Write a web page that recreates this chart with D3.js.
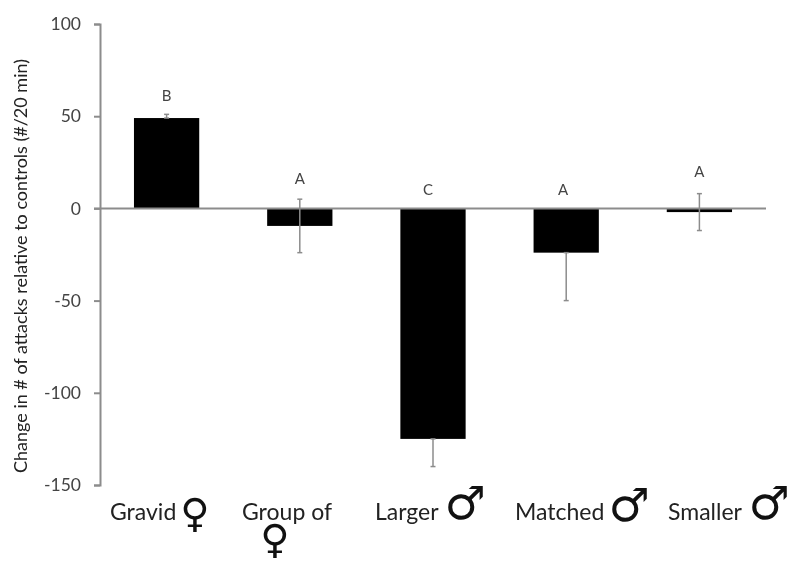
<!DOCTYPE html>
<html>
<head>
<meta charset="utf-8">
<script src="https://cdn.jsdelivr.net/npm/d3@7"></script>
<style>
  body { margin: 0; background: #fff; }
  svg { display: block; filter: blur(0.6px); }
</style>
</head>
<body>
<div id="chart"></div>
<script>
const categories = ['Gravid', 'Group of', 'Larger', 'Matched', 'Smaller'];
const symbols = ['\u2640', '\u2640', '\u2642', '\u2642', '\u2642'];
const values = [49, -9.5, -125, -24, -2];
const errorTop = [51, 5, -125, -24, 8];
const errorBottom = [49, -24, -140, -50, -12];
const letters = ['B', 'A', 'C', 'A', 'A'];
const letterValues = [58, 13, 7, 7.5, 17];
const yTicks = [100, 50, 0, -50, -100, -150];

const svg = d3.select('#chart').append('svg').attr('width', 800).attr('height', 571);

const xScale = d3.scaleBand().domain(categories).range([100, 766]).paddingInner(0.51).paddingOuter(0.255);
const yScale = d3.scaleLinear().domain([-150, 100]).range([485, 24]);

// y axis
const yAxis = svg.append('g')
  .attr('transform', 'translate(100,0)')
  .call(d3.axisLeft(yScale).tickValues(yTicks).tickSize(6).tickPadding(13).tickFormat(d => String(d)));
yAxis.selectAll('path, line').attr('stroke', '#8c8c8c').attr('stroke-width', 2);
yAxis.selectAll('text')
  .attr('fill', '#444')
  .style('font-family', 'Lato')
  .style('font-size', '17.5px');

// bars
svg.selectAll('.bar')
  .data(categories)
  .enter()
  .append('rect')
  .classed('bar', true)
  .attr('x', d => xScale(d))
  .attr('width', xScale.bandwidth())
  .attr('y', (d, i) => yScale(Math.max(0, values[i])))
  .attr('height', (d, i) => Math.abs(yScale(values[i]) - yScale(0)))
  .attr('fill', '#000');

// zero line, on top of the axis
svg.append('line')
  .attr('x1', 94).attr('x2', 766)
  .attr('y1', yScale(0)).attr('y2', yScale(0))
  .attr('stroke', '#8c8c8c').attr('stroke-width', 2);

// error bars
svg.selectAll('.err')
  .data(categories)
  .enter()
  .append('line')
  .classed('err', true)
  .attr('x1', d => xScale(d) + xScale.bandwidth() / 2)
  .attr('x2', d => xScale(d) + xScale.bandwidth() / 2)
  .attr('y1', (d, i) => yScale(errorTop[i]))
  .attr('y2', (d, i) => yScale(errorBottom[i]))
  .attr('stroke', '#8c8c8c').attr('stroke-width', 1.5);

[errorTop, errorBottom].forEach(ends => {
  svg.selectAll(null)
    .data(categories)
    .enter()
    .append('line')
    .attr('x1', d => xScale(d) + xScale.bandwidth() / 2 - 2.5)
    .attr('x2', d => xScale(d) + xScale.bandwidth() / 2 + 2.5)
    .attr('y1', (d, i) => yScale(ends[i]))
    .attr('y2', (d, i) => yScale(ends[i]))
    .attr('stroke', '#8c8c8c').attr('stroke-width', 1.5);
});

// significance letters, the hand placed ones on the right sit a bit left of the bar centre
const letterShift = [0, 0, -5, -3, 0];
svg.selectAll('.letter')
  .data(letters)
  .enter()
  .append('text')
  .classed('letter', true)
  .attr('x', (d, i) => xScale(categories[i]) + xScale.bandwidth() / 2 + letterShift[i])
  .attr('y', (d, i) => yScale(letterValues[i]))
  .attr('text-anchor', 'middle')
  .attr('fill', '#444')
  .style('font-family', 'Lato')
  .style('font-size', '15px')
  .text(d => d);

// y title
svg.append('text')
  .attr('transform', 'translate(27,266) rotate(-90)')
  .attr('text-anchor', 'middle')
  .attr('fill', '#222')
  .style('font-family', 'Lato')
  .style('font-size', '18px')
  .text('Change in # of attacks relative to controls (#/20 min)');

// category labels sit under the plot with a large sign after them
const labelX = [110, 242, 375, 515, 668];
svg.selectAll('.cat')
  .data(categories)
  .enter()
  .append('text')
  .classed('cat', true)
  .attr('x', (d, i) => labelX[i])
  .attr('y', 520)
  .attr('fill', '#222')
  .style('font-family', 'Lato')
  .style('font-size', '23px')
  .text(d => d);

const symbolX = [195, 275, 465, 629, 769];
const symbolY = [527, 553, 519, 521, 519];
const symbolSize = [40, 40, 46, 46, 46];
svg.selectAll('.sym')
  .data(symbols)
  .enter()
  .append('text')
  .classed('sym', true)
  .attr('x', (d, i) => symbolX[i])
  .attr('y', (d, i) => symbolY[i])
  .attr('text-anchor', 'middle')
  .attr('fill', '#111')
  .style('font-family', 'DejaVu Sans')
  .style('font-size', (d, i) => symbolSize[i] + 'px')
  .text(d => d);
</script>
</body>
</html>
